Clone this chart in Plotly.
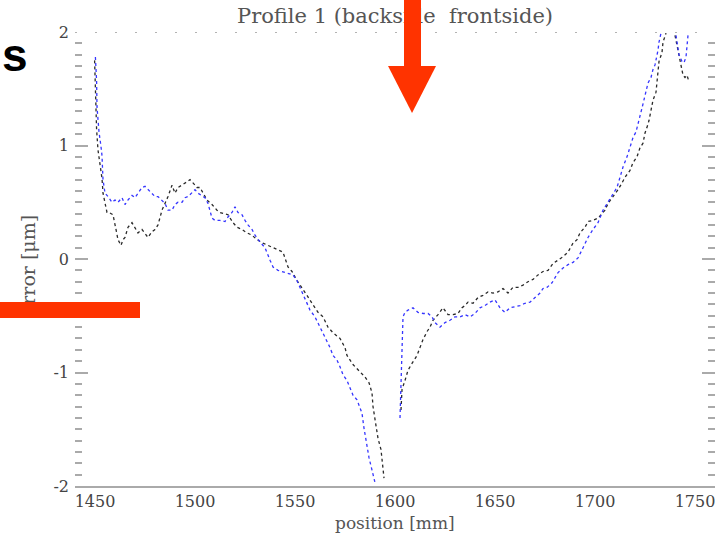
import plotly.graph_objects as go

# ---- data (None = points clipped outside the y range) ----
black_x = [1449.8, 1450.2, 1450.5, 1450.8, 1451.5, 1453, 1453.5, 1454, 1455, 1456, 1457, 1459,
           1460.5, 1461.5, 1463, 1464, 1465, 1466.5, 1468.5, 1470, 1471.5, 1473.5, 1475, 1476.5,
           1478.5, 1480, 1481.5, 1482.5, 1483.5, 1485, 1486.5, 1488.5, 1490, 1491.5, 1493.5, 1496,
           1497.5, 1499, 1501, 1502.5, 1504, 1506, 1508.5, 1511, 1512.5, 1514, 1516.5, 1519, 1521,
           1523.5, 1526, 1528.5, 1531, 1534, 1539, 1544, 1546.5, 1548.5, 1551, 1553.5, 1556, 1558.5,
           1561.5, 1564, 1566.5, 1569, 1572.5, 1575, 1576, 1579, 1582.5, 1585, 1587, 1588.5, 1589,
           1590.5, 1591.5, 1593, 1594, 1594.5, None,
           1603, 1603.5, 1605, 1606.5, 1608.5, 1611, 1612.5, 1614, 1616, 1617.5, 1619, 1621.5, 1624,
           1626.5, 1629, 1631.5, 1633.5, 1635, 1636.5, 1639, 1641.5, 1644, 1646.5, 1649, 1651.5,
           1654, 1656.5, 1659, 1661.5, 1664, 1666.5, 1669, 1671.5, 1674, 1676.5, 1679, 1681.5, 1684,
           1686.5, 1689, 1691, 1692.5, 1695, 1696.5, 1699, 1701.5, 1705, 1706.5, 1709, 1711.5,
           1713.5, 1715, 1717.5, 1719, 1721, 1722.5, 1724, 1725, 1726, 1727, 1728, 1729, 1730.5,
           1731, 1731.5, 1732, 1733.5, 1734, 1735.5, None,
           1740, 1741, 1741.5, 1742.5, 1743.5, 1744, 1745, 1746, 1747]
black_y = [1.75, 1.51, 1.30, 1.14, 0.96, 0.78, 0.71, 0.58, 0.50, 0.41, 0.41, 0.39,
           0.26, 0.17, 0.12, 0.17, 0.19, 0.28, 0.32, 0.27, 0.23, 0.26, 0.23, 0.19,
           0.24, 0.26, 0.30, 0.37, 0.43, 0.49, 0.55, 0.65, 0.58, 0.63, 0.65, 0.68,
           0.70, 0.67, 0.63, 0.63, 0.58, 0.52, 0.48, 0.43, 0.41, 0.40, 0.39, 0.32, 0.28,
           0.26, 0.23, 0.21, 0.17, 0.14, 0.10, 0.06, -0.07, -0.11, -0.19, -0.25, -0.32, -0.39,
           -0.47, -0.51, -0.60, -0.65, -0.70, -0.78, -0.85, -0.93, -0.99, -1.04, -1.09, -1.18, -1.30,
           -1.48, -1.58, -1.68, -1.83, -1.93, None,
           -1.33, -1.15, -1.07, -0.98, -0.92, -0.85, -0.78, -0.71, -0.64, -0.60, -0.54, -0.49, -0.43,
           -0.49, -0.49, -0.48, -0.43, -0.41, -0.38, -0.39, -0.34, -0.32, -0.29, -0.30, -0.29,
           -0.26, -0.30, -0.25, -0.25, -0.23, -0.20, -0.18, -0.14, -0.11, -0.10, -0.04, -0.01, 0.02,
           0.06, 0.14, 0.17, 0.23, 0.28, 0.33, 0.34, 0.36, 0.43, 0.49, 0.55, 0.61,
           0.67, 0.72, 0.78, 0.85, 0.90, 0.98, 1.02, 1.11, 1.16, 1.22, 1.31, 1.40, 1.47,
           1.56, 1.65, 1.74, 1.82, 1.91, 1.99, None,
           1.97, 1.89, 1.84, 1.75, 1.68, 1.62, 1.60, 1.62, 1.56]

blue_x = [1450.2, 1450.8, 1451, 1451.5, 1452, 1453, 1453.5, 1454, 1454.5, 1455, 1456.5, 1458.5,
          1460, 1461.5, 1463.5, 1465, 1466.5, 1468.5, 1470, 1471.5, 1473.5, 1475, 1476.5, 1478.5,
          1480, 1481.5, 1483.5, 1485, 1486.5, 1488.5, 1490, 1491.5, 1493.5, 1495, 1496.5, 1498.5,
          1500, 1501.5, 1503.5, 1505, 1506.5, 1508.5, 1510, 1512.5, 1515, 1516.5, 1518.5, 1520,
          1521.5, 1523.5, 1525, 1526.5, 1528.5, 1530, 1532.5, 1535, 1537.5, 1539, 1541.5, 1545,
          1549, 1551, 1552.5, 1554, 1556, 1557.5, 1560, 1562.5, 1564, 1566, 1567.5, 1569, 1571,
          1572.5, 1574, 1576, 1577.5, 1579, 1581, 1582, 1583.5, 1584.5, 1585.5, 1586, 1587,
          1588.5, 1589, 1590, None,
          1602.5, 1603.5, 1604, 1605, 1606.5, 1609, 1611.5, 1614, 1616.5, 1618.5, 1620, 1622.5,
          1625, 1627.5, 1630, 1632.5, 1635, 1637.5, 1640, 1642.5, 1645, 1647.5, 1650, 1652.5,
          1655, 1657.5, 1660, 1662.5, 1665, 1667.5, 1670, 1672.5, 1674, 1676, 1678.5, 1680,
          1681.5, 1684, 1686.5, 1689, 1691.5, 1693.5, 1695, 1696.5, 1699, 1701.5, 1704, 1706.5,
          1708.5, 1711, 1712.5, 1714, 1716, 1717.5, 1719, 1720.5, 1721.5, 1722, 1723, 1723.5,
          1725, 1726, 1726.5, 1728, 1729, 1730, 1731, 1731.5, 1732, 1733, None,
          1740.5, 1741, 1742, 1743.5, 1744.5, 1745.5, 1746, 1746.5]
blue_y = [1.78, 1.57, 1.34, 1.22, 1.12, 0.99, 0.91, 0.70, 0.63, 0.58, 0.55, 0.50,
          0.52, 0.50, 0.54, 0.48, 0.52, 0.56, 0.54, 0.58, 0.63, 0.64, 0.61, 0.58,
          0.55, 0.55, 0.52, 0.49, 0.43, 0.43, 0.48, 0.50, 0.50, 0.54, 0.55, 0.58,
          0.61, 0.58, 0.56, 0.54, 0.49, 0.36, 0.34, 0.34, 0.33, 0.37, 0.41, 0.46,
          0.41, 0.39, 0.34, 0.30, 0.26, 0.21, 0.15, 0.10, -0.01, -0.07, -0.10, -0.12,
          -0.14, -0.19, -0.25, -0.32, -0.39, -0.45, -0.51, -0.60, -0.65, -0.73, -0.78, -0.85, -0.89,
          -0.95, -1.02, -1.07, -1.14, -1.20, -1.24, -1.29, -1.36, -1.49, -1.59, -1.66, -1.75,
          -1.86, -1.90, -1.97, None,
          -1.40, -0.76, -0.51, -0.47, -0.45, -0.43, -0.47, -0.48, -0.48, -0.51, -0.56, -0.60,
          -0.56, -0.54, -0.51, -0.51, -0.49, -0.51, -0.48, -0.43, -0.41, -0.38, -0.36, -0.43,
          -0.47, -0.43, -0.42, -0.41, -0.39, -0.38, -0.34, -0.30, -0.26, -0.25, -0.21, -0.17,
          -0.12, -0.08, -0.05, -0.03, 0.01, 0.08, 0.14, 0.19, 0.26, 0.32, 0.43, 0.50,
          0.56, 0.63, 0.72, 0.81, 0.90, 0.99, 1.07, 1.12, 1.20, 1.22, 1.29, 1.33,
          1.44, 1.51, 1.55, 1.60, 1.67, 1.71, 1.78, 1.84, 1.91, 1.99, None,
          1.97, 1.90, 1.80, 1.74, 1.73, 1.78, 1.89, 1.97]

x_ticks = [1450, 1500, 1550, 1600, 1650, 1700, 1750]
y_ticks = [-2, -1, 0, 1, 2]
y_ticktext = ["-2", "-1", "0", "1", "2"]

title_text = "Profile 1 (backside  frontside)"
x_title = "position [mm]"
y_title = "error [μm]"

RED = "#FF3300"
SERIF = "DejaVu Serif"

fig = go.Figure()
fig.add_trace(go.Scatter(x=black_x, y=black_y, mode="lines",
                         line=dict(color="#2a2a2a", width=1.3, dash="dot"),
                         showlegend=False, hoverinfo="skip"))
fig.add_trace(go.Scatter(x=blue_x, y=blue_y, mode="lines",
                         line=dict(color="#3535ff", width=1.3, dash="dot"),
                         showlegend=False, hoverinfo="skip"))

fig.update_layout(
    width=726, height=536,
    margin=dict(l=75, r=11, t=32, b=50),
    paper_bgcolor="white", plot_bgcolor="white",
    xaxis=dict(range=[1440, 1760], tickvals=x_ticks, showgrid=False, zeroline=False,
               showline=True, linecolor="#aaaaaa", linewidth=2, ticks="",
               tickfont=dict(family=SERIF, size=16, color="#444")),
    yaxis=dict(range=[-2, 2], tickvals=y_ticks, ticktext=y_ticktext, showgrid=False,
               zeroline=False, showline=False, ticks="inside", ticklen=13, tickwidth=2,
               tickcolor="#aaaaaa", mirror="ticks", ticklabelstandoff=5,
               minor=dict(dtick=0.1, ticks="inside", ticklen=7, tickwidth=1.5,
                          tickcolor="#aaaaaa", showgrid=False),
               tickfont=dict(family=SERIF, size=16, color="#444")),
)

# dotted top axis
fig.add_shape(type="line", xref="paper", yref="y", x0=0, x1=1, y0=2, y1=2,
              line=dict(color="#999999", width=1.5, dash="2px,18px"))

# arrow head
fig.add_shape(type="path", xref="paper", yref="paper",
              path="M 0.4891 0.9251 L 0.5641 0.9251 L 0.5266 0.8216 Z",
              fillcolor=RED, line=dict(width=0), layer="above")

annotations = [
    dict(text=title_text, x=0.5, y=1.035, xref="paper", yref="paper", showarrow=False,
         xanchor="center", yanchor="middle", font=dict(family=SERIF, size=21, color="#555")),
    dict(text=x_title, x=0.5, y=-0.0815, xref="paper", yref="paper", showarrow=False,
         xanchor="center", yanchor="middle", font=dict(family=SERIF, size=17, color="#555")),
    dict(text=y_title, x=-0.0734, y=0.4846, xref="paper", yref="paper", showarrow=False,
         textangle=-90, xanchor="center", yanchor="middle",
         font=dict(family=SERIF, size=19, color="#555")),
    dict(text="<b>s</b>", x=-0.1156, y=0.95, xref="paper", yref="paper", showarrow=False,
         xanchor="left", yanchor="middle", borderpad=0,
         font=dict(family="Liberation Sans", size=46, color="black")),
    # arrow shaft (drawn over the title)
    dict(text=" ", x=0.5141, y=1.09, xref="paper", yref="paper", showarrow=False,
         xanchor="left", yanchor="top", width=17, height=75, bgcolor=RED,
         borderpad=0, borderwidth=0, font=dict(size=1)),
    # horizontal red bar (drawn over the y title)
    dict(text=" ", x=-0.1172, y=0.4053, xref="paper", yref="paper", showarrow=False,
         xanchor="left", yanchor="top", width=140, height=16, bgcolor=RED,
         borderpad=0, borderwidth=0, font=dict(size=1)),
]
fig.update_layout(annotations=annotations)

fig.write_html("out.html", config={"displayModeBar": False},
               post_script="document.body.style.margin='0px';document.body.style.overflow='hidden';")
